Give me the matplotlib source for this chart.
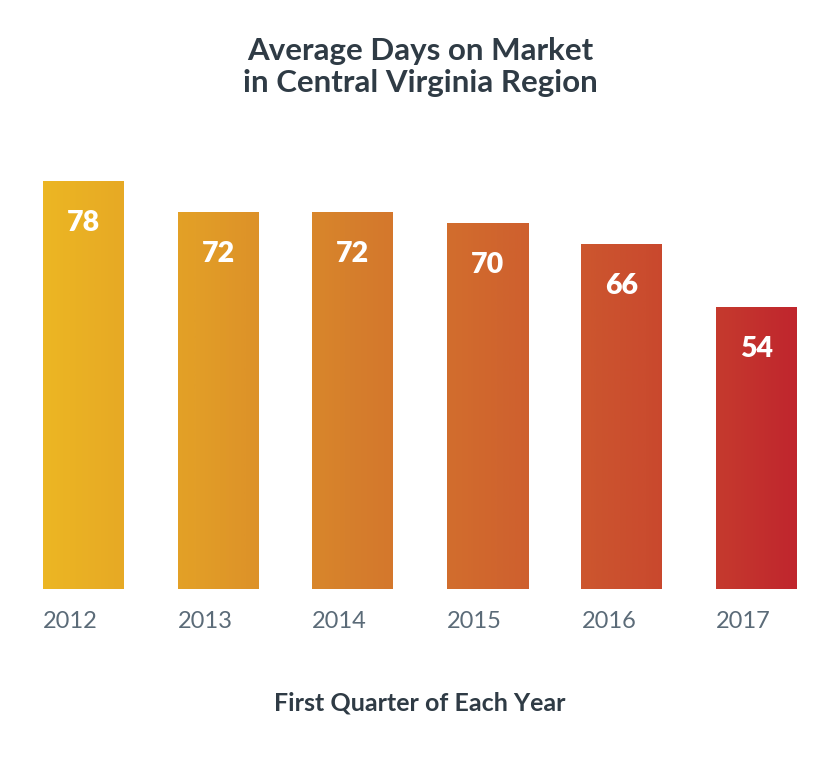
import matplotlib
matplotlib.use("Agg")
import matplotlib.pyplot as plt
import numpy as np
from matplotlib.colors import LinearSegmentedColormap

years = ["2012", "2013", "2014", "2015", "2016", "2017"]
days = [78, 72, 72, 70, 66, 54]
title = "Average Days on Market\nin Central Virginia Region"
xlabel = "First Quarter of Each Year"

FONT = ["Lato", "DejaVu Sans"]
plt.rcParams["font.family"] = FONT

fig = plt.figure(figsize=(8.27, 7.65), dpi=100)
W, H = 827, 765
ax = fig.add_axes([0, 1 - 589 / H, 1, 439 / H])

x = np.arange(len(years))
unit = (756.5 - 83.5) / 5
xlim = (-83.5 / unit, (W - 83.5) / unit)
width = 81 / unit
ylim = (0, 439 / 5.23)

cmap = LinearSegmentedColormap.from_list(
    "g", ["#ECB623", "#E29E27", "#D6802C", "#D0652E", "#CA4C2E", "#C0262D"])
grad = np.linspace(0, 1, 512).reshape(1, -1)
x0 = x[0] - width / 2
x1 = x[-1] + width / 2

bars = ax.bar(x, days, width=width, color="none", edgecolor="none")
for b in bars:
    im = ax.imshow(grad, cmap=cmap, aspect="auto", extent=[x0, x1, 0, max(days)],
                   origin="lower", zorder=1)
    im.set_clip_path(b)
ax.set_xlim(*xlim)
ax.set_ylim(*ylim)

for xi, v in zip(x, days):
    ax.annotate(str(v), (xi, v), xytext=(0, -42), textcoords="offset pixels",
                ha="center", va="center", color="white", fontsize=20.5,
                fontweight="heavy", zorder=3)

for xi, lab in zip(x, years):
    ax.annotate(lab, (xi - width / 2, 0), xytext=(0, -33), textcoords="offset pixels",
                ha="left", va="center", color="#5B6B78", fontsize=17,
                annotation_clip=False)

ax.axis("off")

fig.text(420 / W, 1 - 67 / H, title, ha="center", va="center", fontsize=22.5,
         fontweight="bold", color="#2F3B45", linespacing=1.2)
fig.text(420 / W, 1 - 703 / H, xlabel, ha="center", va="center", fontsize=18,
         fontweight="bold", color="#2F3B45")

fig.savefig("out.png", dpi=100, facecolor="white")
